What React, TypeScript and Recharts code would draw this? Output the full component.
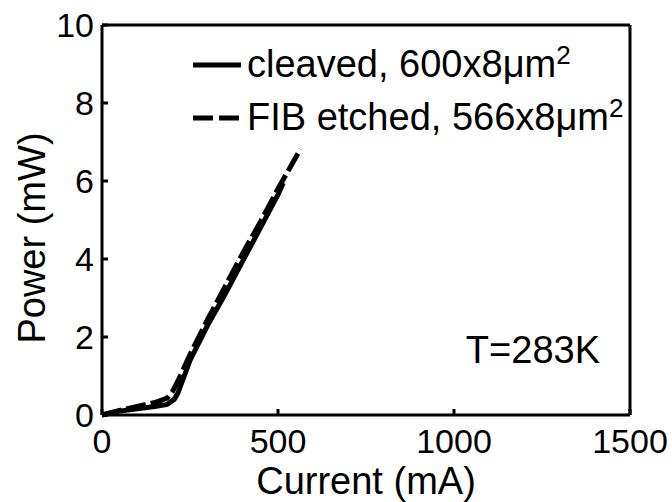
import React from "react";
import { LineChart, Line, XAxis, YAxis, Legend } from "recharts";

const currentTicks = [0, 500, 1000, 1500];
const powerTicks = [0, 2, 4, 6, 8, 10];

const cleavedCurrent = [0, 25, 50, 100, 150, 185, 205, 215, 250, 300, 350, 400, 450, 500, 515];
const cleavedPower = [0, 0.05, 0.1, 0.16, 0.22, 0.27, 0.4, 0.55, 1.4, 2.3, 3.1, 3.95, 4.8, 5.65, 5.95];

const fibCurrent = [0, 25, 50, 100, 150, 185, 200, 220, 250, 300, 350, 400, 450, 500, 564];
const fibPower = [0, 0.06, 0.12, 0.22, 0.32, 0.43, 0.6, 0.95, 1.55, 2.45, 3.3, 4.15, 4.95, 5.8, 6.82];

const cleavedData = cleavedCurrent.map((c, i) => ({ current: c, power: cleavedPower[i] }));
const fibData = fibCurrent.map((c, i) => ({ current: c, power: fibPower[i] }));

const FONT = '"Liberation Sans", Arial, Helvetica, sans-serif';
const FS = 34;
const LFS = 38;
const TICK = 6;

function BottomTick(props: any) {
  const { x, y, payload } = props;
  return (
    <g>
      <line x1={x} y1={y} x2={x} y2={y - TICK} stroke="#000" strokeWidth={3} />
      <text x={x} y={y + 38} textAnchor="middle" fontSize={FS} fontFamily={FONT} fill="#000">
        {payload.value}
      </text>
    </g>
  );
}

function TopTick(props: any) {
  const { x, y } = props;
  return <line x1={x} y1={y} x2={x} y2={y + TICK} stroke="#000" strokeWidth={3} />;
}

function LeftTick(props: any) {
  const { x, y, payload } = props;
  return (
    <g>
      <line x1={x} y1={y} x2={x + TICK} y2={y} stroke="#000" strokeWidth={3} />
      <text x={x - 8} y={y + 12} textAnchor="end" fontSize={FS} fontFamily={FONT} fill="#000">
        {payload.value}
      </text>
    </g>
  );
}

function RightTick(props: any) {
  const { x, y } = props;
  return <line x1={x} y1={y} x2={x - TICK} y2={y} stroke="#000" strokeWidth={3} />;
}

function LegendBox() {
  const rows = [
    { label: "cleaved, 600x8\u03bcm", dash: undefined },
    { label: "FIB etched, 566x8\u03bcm", dash: "20 6" },
  ];
  return (
    <div style={{ fontFamily: FONT, fontSize: LFS, color: "#000", lineHeight: "53px" }}>
      {rows.map((r) => (
        <div key={r.label} style={{ display: "flex", alignItems: "center", height: 53 }}>
          <svg width={52} height={10} style={{ marginRight: 2 }}>
            <line x1={0} y1={5} x2={48} y2={5} stroke="#000" strokeWidth={5} strokeDasharray={r.dash} />
          </svg>
          <span>
            {r.label}
            <sup style={{ fontSize: 26, verticalAlign: "13px", lineHeight: 0 }}>2</sup>
          </span>
        </div>
      ))}
    </div>
  );
}

export default function App() {
  return (
    <div style={{ position: "absolute", left: 0, top: 0, width: 672, height: 502, background: "#fff" }}>
      <LineChart width={672} height={502} margin={{ top: 24, right: 41, bottom: 0, left: 0 }}>
        <XAxis
          dataKey="current"
          type="number"
          domain={[0, 1500]}
          ticks={currentTicks}
          xAxisId="b"
          height={87}
          tickSize={0}
          tickMargin={0}
          tickLine={false}
          tick={<BottomTick />}
          axisLine={{ stroke: "#000", strokeWidth: 3 }}
          label={() => (
            <text x={366} y={494} textAnchor="middle" fontSize={LFS} fontFamily={FONT} fill="#000">
              Current (mA)
            </text>
          )}
        />
        <XAxis
          dataKey="current"
          type="number"
          domain={[0, 1500]}
          ticks={currentTicks}
          xAxisId="t"
          orientation="top"
          height={1}
          tickSize={0}
          tickMargin={0}
          tickLine={false}
          tick={<TopTick />}
          axisLine={{ stroke: "#000", strokeWidth: 3 }}
        />
        <YAxis
          type="number"
          domain={[0, 10]}
          ticks={powerTicks}
          yAxisId="l"
          width={102}
          tickSize={0}
          tickMargin={0}
          tickLine={false}
          tick={<LeftTick />}
          axisLine={{ stroke: "#000", strokeWidth: 3 }}
          label={() => (
            <text
              x={45}
              y={238}
              transform="rotate(-90 45 238)"
              textAnchor="middle"
              fontSize={LFS}
              fontFamily={FONT}
              fill="#000"
            >
              Power (mW)
            </text>
          )}
        />
        <YAxis
          type="number"
          domain={[0, 10]}
          ticks={powerTicks}
          yAxisId="r"
          orientation="right"
          width={1}
          tickSize={0}
          tickMargin={0}
          tickLine={false}
          tick={<RightTick />}
          axisLine={{ stroke: "#000", strokeWidth: 3 }}
        />
        <Legend
          layout="horizontal"
          verticalAlign="middle"
          align="center"
          content={() => <LegendBox />}
          wrapperStyle={{ position: "absolute", left: 193, top: 38, width: "auto" }}
        />
        <Line
          data={cleavedData}
          dataKey="power"
          xAxisId="b"
          yAxisId="l"
          type="linear"
          stroke="#000"
          strokeWidth={5}
          dot={false}
          isAnimationActive={false}
        />
        <Line
          data={fibData}
          dataKey="power"
          xAxisId="b"
          yAxisId="l"
          type="linear"
          stroke="#000"
          strokeWidth={5}
          strokeDasharray="20 5"
          dot={false}
          isAnimationActive={false}
        />
      </LineChart>
      <div
        style={{
          position: "absolute",
          right: 72,
          top: 330,
          fontFamily: FONT,
          fontSize: LFS,
          color: "#000",
          lineHeight: "40px",
        }}
      >
        T=283K
      </div>
    </div>
  );
}
